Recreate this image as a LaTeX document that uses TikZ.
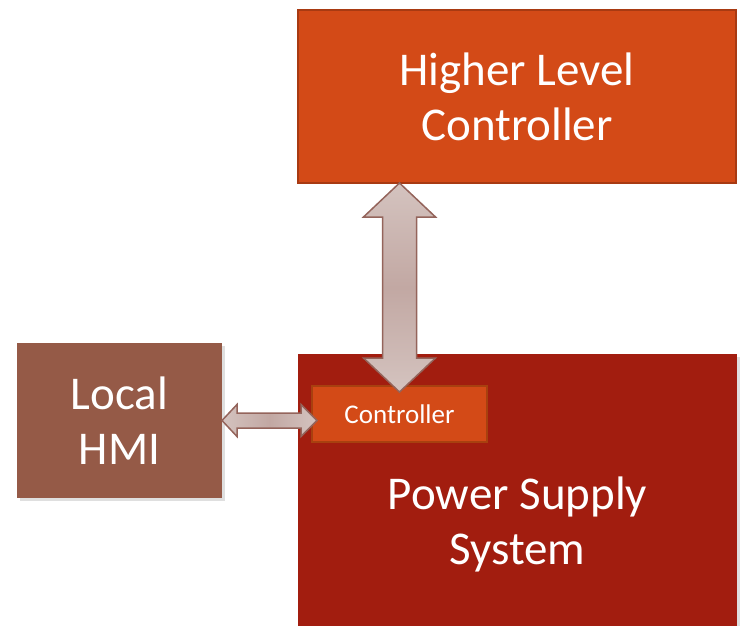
\documentclass[tikz,border=0pt]{standalone}
\usepackage{fontspec}
\setmainfont{Carlito}
\usetikzlibrary{calc,shadows}
\definecolor{hlcfill}{HTML}{D34A17}
\definecolor{hlcline}{HTML}{A83A12}
\definecolor{pssfill}{HTML}{A21D0F}
\definecolor{hmifill}{HTML}{955A47}
\definecolor{ctrlline}{HTML}{A8400F}
\definecolor{arrowlight}{HTML}{D4C3BF}
\definecolor{arrowmid}{HTML}{C2A8A3}
\definecolor{arrowline}{HTML}{94645B}
\tikzset{
  block/.style={inner sep=0pt, outer sep=0pt, text=white, align=center,
    font=\fontsize{47}{55}\selectfont},
  softshadow/.style={drop shadow={shadow xshift=3pt, shadow yshift=-3pt, opacity=0.25}},
  bigarrow/.style={draw=arrowline, line width=1.5pt, line join=miter}
}
\begin{document}
\begin{tikzpicture}[x=1pt,y=-1pt]
    \path[use as bounding box, clip] (0,0) rectangle (742,626);
    \node[block, fill=hlcfill, draw=hlcline, line width=1.5pt, minimum width=438pt, minimum height=173pt] (hlc) at (517,96.5) {Higher Level\\Controller};
    \node[block, softshadow, fill=pssfill, minimum width=439pt, minimum height=340pt] (pss) at (517.5,524) {Power Supply\\System};
    \node[block, softshadow, fill=hmifill, minimum width=205pt, minimum height=155pt] (hmi) at (119.5,420.5) {Local\\HMI};
    \node[block, fill=hlcfill, draw=ctrlline, line width=1.5pt, minimum width=175pt, minimum height=56pt, font=\fontsize{27}{32}\selectfont] (ctrl) at (399.5,414) {Controller};
    % link up to the higher level controller
    \coordinate (up) at (ctrl.north |- hlc.south);
    \coordinate (down) at ($(ctrl.north)+(0,6)$);
    \draw[bigarrow, top color=arrowlight, bottom color=arrowlight, middle color=arrowmid] (up) -- ++(36,34) -- ++(-19,0) -- ($(down)+(17,-34)$) -- ++(19,0) -- (down) -- ++(-36,-34) -- ++(19,0) -- ($(up)+(-17,34)$) -- ++(-19,0) -- cycle;
    % link to the local HMI
    \coordinate (left) at (hmi.east);
    \coordinate (right) at ($(hmi.east -| ctrl.west)+(5,0)$);
    \draw[bigarrow, left color=arrowlight, right color=arrowlight, middle color=arrowmid] (left) -- ++(15,-16) -- ++(0,8.5) -- ($(right)+(-16,-7.5)$) -- ++(0,-8.5) -- (right) -- ++(-16,16) -- ++(0,-8.5) -- ($(left)+(15,7.5)$) -- ++(0,8.5) -- cycle;
\end{tikzpicture}
\end{document}
